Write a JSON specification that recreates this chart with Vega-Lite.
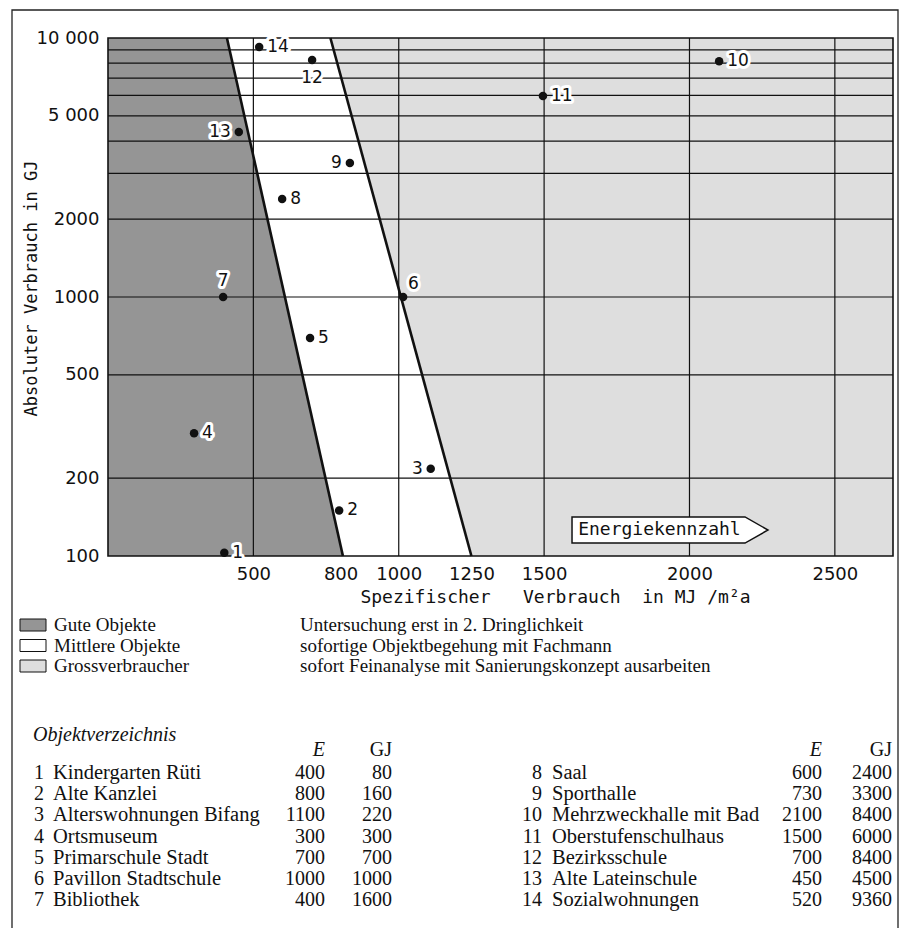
{
  "$schema": "https://vega.github.io/schema/vega-lite/v6.json",
  "width": 785,
  "height": 518,
  "autosize": {"type": "none"},
  "padding": {"left": 108, "top": 38, "right": 8, "bottom": 372},
  "background": "white",
  "config": {"view": {"stroke": null}},
  "datasets": {
    "objects": [
      {"id": 1, "name": "Kindergarten Rüti", "E": 400, "GJ": 80, "pE": 400, "pGJ": 103},
      {"id": 2, "name": "Alte Kanzlei", "E": 800, "GJ": 160, "pE": 795, "pGJ": 150},
      {"id": 3, "name": "Alterswohnungen Bifang", "E": 1100, "GJ": 220, "pE": 1110, "pGJ": 217},
      {"id": 4, "name": "Ortsmuseum", "E": 300, "GJ": 300, "pE": 296, "pGJ": 298},
      {"id": 5, "name": "Primarschule Stadt", "E": 700, "GJ": 700, "pE": 695, "pGJ": 695},
      {"id": 6, "name": "Pavillon Stadtschule", "E": 1000, "GJ": 1000, "pE": 1015, "pGJ": 1000},
      {"id": 7, "name": "Bibliothek", "E": 400, "GJ": 1600, "pE": 396, "pGJ": 1000},
      {"id": 8, "name": "Saal", "E": 600, "GJ": 2400, "pE": 599, "pGJ": 2390},
      {"id": 9, "name": "Sporthalle", "E": 730, "GJ": 3300, "pE": 832, "pGJ": 3290},
      {"id": 10, "name": "Mehrzweckhalle mit Bad", "E": 2100, "GJ": 8400, "pE": 2102, "pGJ": 8140},
      {"id": 11, "name": "Oberstufenschulhaus", "E": 1500, "GJ": 6000, "pE": 1496, "pGJ": 5970},
      {"id": 12, "name": "Bezirksschule", "E": 700, "GJ": 8400, "pE": 702, "pGJ": 8225},
      {"id": 13, "name": "Alte Lateinschule", "E": 450, "GJ": 4500, "pE": 450, "pGJ": 4335},
      {"id": 14, "name": "Sozialwohnungen", "E": 520, "GJ": 9360, "pE": 520, "pGJ": 9230}
    ],
    "zones": [
      {"zone": "Gute Objekte", "E": 808, "GJ": 100},
      {"zone": "Gute Objekte", "E": 409, "GJ": 10000},
      {"zone": "Grossverbraucher", "E": 1250, "GJ": 100},
      {"zone": "Grossverbraucher", "E": 765, "GJ": 10000}
    ],
    "hgrid": [{"GJ": 200}, {"GJ": 500}, {"GJ": 1000}, {"GJ": 2000}, {"GJ": 3000}, {"GJ": 4000}, {"GJ": 5000}, {"GJ": 6000}, {"GJ": 7000}, {"GJ": 8000}, {"GJ": 9000}],
    "vgrid": [{"E": 500}, {"E": 1000}, {"E": 1500}, {"E": 2000}, {"E": 2500}],
    "arrow": [
      {"aE": 1596, "top": 141.5, "bot": 112.2},
      {"aE": 2191, "top": 141.5, "bot": 112.2},
      {"aE": 2270, "top": 126, "bot": 126}
    ],
    "legend": [
      {"k": 1, "zone": "Gute Objekte", "desc": "Untersuchung erst in 2. Dringlichkeit"},
      {"k": 2, "zone": "Mittlere Objekte", "desc": "sofortige Objektbegehung mit Fachmann"},
      {"k": 3, "zone": "Grossverbraucher", "desc": "sofort Feinanalyse mit Sanierungskonzept ausarbeiten"}
    ]
  },
  "layer": [
    {
      "layer": [
        {
          "data": {"name": "zones"},
          "transform": [{"filter": "datum.zone == 'Gute Objekte'"}],
          "mark": {"type": "area", "orient": "horizontal", "opacity": 1},
          "encoding": {
            "x": {"field": "E", "type": "quantitative", "scale": {"domain": [0, 2700], "nice": false, "zero": false},
              "axis": {"values": [500, 800, 1000, 1250, 1500, 2000, 2500], "labelExpr": "'' + datum.value", "grid": false, "domain": false, "ticks": false, "labelFont": "DejaVu Sans", "labelFontSize": 18, "labelColor": "#111", "labelPadding": 23, "labelBaseline": "alphabetic", "labelFlush": false, "labelOverlap": false,
                "title": "Spezifischer\u00a0\u00a0\u00a0Verbrauch\u00a0\u00a0in\u00a0MJ\u00a0/m²a", "titleFont": "DejaVu Sans Mono", "titleFontSize": 18, "titleFontWeight": "normal", "titleColor": "#111", "titleX": 447, "titleY": 46, "titleAlign": "center", "titleBaseline": "alphabetic"}},
            "y": {"field": "GJ", "type": "quantitative", "scale": {"type": "log", "domain": [100, 10000], "nice": false},
              "axis": {"values": [100, 200, 500, 1000, 2000, 5000, 10000], "labelExpr": "datum.value == 10000 ? '10 000' : datum.value == 5000 ? '5 000' : '' + datum.value", "grid": false, "domain": false, "ticks": false, "labelFont": "DejaVu Sans", "labelFontSize": 18, "labelColor": "#111", "labelPadding": 9, "labelBaseline": "middle", "labelFlush": false, "labelOverlap": false,
                "title": "Absoluter\u00a0Verbrauch\u00a0in\u00a0GJ", "titleFont": "DejaVu Sans Mono", "titleFontSize": 17, "titleFontWeight": "normal", "titleColor": "#111", "titleAngle": 270, "titleX": -77, "titleY": 250, "titleAlign": "center", "titleBaseline": "middle"}},
            "x2": {"datum": 0},
            "color": {"field": "zone", "type": "nominal", "scale": {"domain": ["Gute Objekte", "Mittlere Objekte", "Grossverbraucher"], "range": ["#959595", "#ffffff", "#dedede"]}, "legend": null}
          }
        },
        {
          "data": {"name": "zones"},
          "transform": [{"filter": "datum.zone == 'Grossverbraucher'"}],
          "mark": {"type": "area", "orient": "horizontal", "opacity": 1},
          "encoding": {
            "x": {"field": "E", "type": "quantitative"},
            "y": {"field": "GJ", "type": "quantitative"},
            "x2": {"datum": 2700},
            "color": {"field": "zone", "type": "nominal", "legend": null}
          }
        },
        {
          "data": {"name": "hgrid"},
          "mark": {"type": "rule", "color": "#111", "strokeWidth": 1.2},
          "encoding": {
            "y": {"field": "GJ", "type": "quantitative"}
          }
        },
        {
          "data": {"name": "vgrid"},
          "mark": {"type": "rule", "color": "#111", "strokeWidth": 1.2},
          "encoding": {
            "x": {"field": "E", "type": "quantitative"}
          }
        },
        {
          "data": {"name": "zones"},
          "mark": {"type": "line", "color": "#111", "strokeWidth": 2.6},
          "encoding": {
            "x": {"field": "E", "type": "quantitative"},
            "y": {"field": "GJ", "type": "quantitative"},
            "detail": {"field": "zone"}
          }
        },
        {
          "data": {"values": [{}]},
          "mark": {"type": "rect", "filled": false, "stroke": "#111", "strokeWidth": 1.6},
          "encoding": {
            "x": {"datum": 0, "type": "quantitative"},
            "x2": {"datum": 2700},
            "y": {"datum": 100, "type": "quantitative"},
            "y2": {"datum": 10000}
          }
        },
        {
          "data": {"name": "arrow"},
          "mark": {"type": "area", "orient": "vertical", "fill": "white", "stroke": "#111", "strokeWidth": 1.5, "opacity": 1},
          "encoding": {
            "x": {"field": "aE", "type": "quantitative"},
            "y": {"field": "top", "type": "quantitative"},
            "y2": {"field": "bot"}
          }
        },
        {
          "data": {"values": [{}]},
          "mark": {"type": "text", "text": "Energiekennzahl", "font": "DejaVu Sans Mono", "fontSize": 18, "align": "left", "baseline": "middle", "color": "#111"},
          "encoding": {
            "x": {"datum": 1617, "type": "quantitative"},
            "y": {"datum": 126, "type": "quantitative"}
          }
        },
        {
          "data": {"name": "objects"},
          "mark": {"type": "circle", "size": 72, "color": "#111", "opacity": 1},
          "encoding": {
            "x": {"field": "pE", "type": "quantitative"},
            "y": {"field": "pGJ", "type": "quantitative"}
          }
        },
        {
          "data": {"name": "objects"},
          "transform": [{"filter": {"field": "id", "oneOf": [1, 2, 4, 5, 8, 10, 11, 14]}}],
          "encoding": {
            "x": {"field": "pE", "type": "quantitative"},
            "y": {"field": "pGJ", "type": "quantitative"},
            "text": {"field": "id", "type": "nominal"}
          },
          "layer": [
            {"mark": {"type": "text", "align": "left", "baseline": "middle", "dx": 8, "font": "DejaVu Sans", "fontSize": 17, "fill": "white", "stroke": "white", "strokeWidth": 6, "strokeJoin": "round"}},
            {"mark": {"type": "text", "align": "left", "baseline": "middle", "dx": 8, "font": "DejaVu Sans", "fontSize": 17, "color": "#111"}}
          ]
        },
        {
          "data": {"name": "objects"},
          "transform": [{"filter": {"field": "id", "oneOf": [3, 9, 13]}}],
          "encoding": {
            "x": {"field": "pE", "type": "quantitative"},
            "y": {"field": "pGJ", "type": "quantitative"},
            "text": {"field": "id", "type": "nominal"}
          },
          "layer": [
            {"mark": {"type": "text", "align": "right", "baseline": "middle", "dx": -8, "font": "DejaVu Sans", "fontSize": 17, "fill": "white", "stroke": "white", "strokeWidth": 6, "strokeJoin": "round"}},
            {"mark": {"type": "text", "align": "right", "baseline": "middle", "dx": -8, "font": "DejaVu Sans", "fontSize": 17, "color": "#111"}}
          ]
        },
        {
          "data": {"name": "objects"},
          "transform": [{"filter": "datum.id == 7"}],
          "encoding": {
            "x": {"field": "pE", "type": "quantitative"},
            "y": {"field": "pGJ", "type": "quantitative"},
            "text": {"field": "id", "type": "nominal"}
          },
          "layer": [
            {"mark": {"type": "text", "align": "center", "baseline": "middle", "dy": -16, "font": "DejaVu Sans", "fontSize": 17, "fill": "white", "stroke": "white", "strokeWidth": 6, "strokeJoin": "round"}},
            {"mark": {"type": "text", "align": "center", "baseline": "middle", "dy": -16, "font": "DejaVu Sans", "fontSize": 17, "color": "#111"}}
          ]
        },
        {
          "data": {"name": "objects"},
          "transform": [{"filter": "datum.id == 6"}],
          "encoding": {
            "x": {"field": "pE", "type": "quantitative"},
            "y": {"field": "pGJ", "type": "quantitative"},
            "text": {"field": "id", "type": "nominal"}
          },
          "layer": [
            {"mark": {"type": "text", "align": "left", "baseline": "middle", "dx": 5, "dy": -13, "font": "DejaVu Sans", "fontSize": 17, "fill": "white", "stroke": "white", "strokeWidth": 6, "strokeJoin": "round"}},
            {"mark": {"type": "text", "align": "left", "baseline": "middle", "dx": 5, "dy": -13, "font": "DejaVu Sans", "fontSize": 17, "color": "#111"}}
          ]
        },
        {
          "data": {"name": "objects"},
          "transform": [{"filter": "datum.id == 12"}],
          "encoding": {
            "x": {"field": "pE", "type": "quantitative"},
            "y": {"field": "pGJ", "type": "quantitative"},
            "text": {"field": "id", "type": "nominal"}
          },
          "layer": [
            {"mark": {"type": "text", "align": "center", "baseline": "middle", "dy": 18, "font": "DejaVu Sans", "fontSize": 17, "fill": "white", "stroke": "white", "strokeWidth": 6, "strokeJoin": "round"}},
            {"mark": {"type": "text", "align": "center", "baseline": "middle", "dy": 18, "font": "DejaVu Sans", "fontSize": 17, "color": "#111"}}
          ]
        }
      ]
    },
    {
      "data": {"values": [{}]},
      "mark": {"type": "rect", "filled": false, "stroke": "#222", "strokeWidth": 1.3},
      "encoding": {
        "x": {"datum": 12, "type": "quantitative", "scale": {"domain": [0, 901], "range": [-108, 793], "nice": false, "zero": false}, "axis": null},
        "x2": {"datum": 898},
        "y": {"datum": 10, "type": "quantitative", "scale": {"domain": [0, 928], "range": [-38, 890], "nice": false, "zero": false}, "axis": null},
        "y2": {"datum": 945}
      }
    },
    {
      "data": {"name": "legend"},
      "layer": [
        {
          "mark": {"type": "rect", "height": 12, "stroke": "#111", "strokeWidth": 1, "opacity": 1},
          "encoding": {
            "x": {"datum": 20, "type": "quantitative", "scale": {"domain": [0, 901], "range": [-108, 793], "nice": false, "zero": false}, "axis": null},
            "x2": {"datum": 46},
            "y": {"field": "k", "type": "quantitative", "scale": {"domain": [1, 3], "range": [587, 628], "nice": false, "zero": false}, "axis": null},
            "color": {"field": "zone", "type": "nominal", "legend": null}
          }
        },
        {
          "mark": {"type": "text", "align": "left", "baseline": "middle", "font": "Liberation Serif", "fontSize": 19, "color": "#111"},
          "encoding": {
            "x": {"datum": 54, "type": "quantitative", "axis": null},
            "y": {"field": "k", "type": "quantitative", "axis": null},
            "text": {"field": "zone", "type": "nominal"}
          }
        },
        {
          "mark": {"type": "text", "align": "left", "baseline": "middle", "font": "Liberation Serif", "fontSize": 19, "color": "#111"},
          "encoding": {
            "x": {"datum": 300, "type": "quantitative", "axis": null},
            "y": {"field": "k", "type": "quantitative", "axis": null},
            "text": {"field": "desc", "type": "nominal"}
          }
        }
      ]
    },
    {
      "data": {"name": "objects"},
      "transform": [{"calculate": "datum.id <= 7 ? datum.id : datum.id - 7", "as": "row"}],
      "layer": [
        {
          "transform": [{"filter": "datum.id <= 7"}],
          "mark": {"type": "text", "align": "right", "baseline": "middle", "font": "Liberation Serif", "fontSize": 20, "color": "#111"},
          "encoding": {
            "x": {"datum": 44, "type": "quantitative", "scale": {"domain": [0, 901], "range": [-108, 793], "nice": false, "zero": false}, "axis": null},
            "y": {"field": "row", "type": "quantitative", "scale": {"domain": [1, 7], "range": [735, 862], "nice": false, "zero": false}, "axis": null},
            "text": {"field": "id", "type": "nominal"}
          }
        },
        {
          "transform": [{"filter": "datum.id <= 7"}],
          "mark": {"type": "text", "align": "left", "baseline": "middle", "font": "Liberation Serif", "fontSize": 20.5, "color": "#111"},
          "encoding": {
            "x": {"datum": 53, "type": "quantitative", "axis": null},
            "y": {"field": "row", "type": "quantitative", "axis": null},
            "text": {"field": "name", "type": "nominal"}
          }
        },
        {
          "transform": [{"filter": "datum.id <= 7"}],
          "mark": {"type": "text", "align": "right", "baseline": "middle", "font": "Liberation Serif", "fontSize": 20, "color": "#111"},
          "encoding": {
            "x": {"datum": 325, "type": "quantitative", "axis": null},
            "y": {"field": "row", "type": "quantitative", "axis": null},
            "text": {"field": "E", "type": "nominal"}
          }
        },
        {
          "transform": [{"filter": "datum.id <= 7"}],
          "mark": {"type": "text", "align": "right", "baseline": "middle", "font": "Liberation Serif", "fontSize": 20, "color": "#111"},
          "encoding": {
            "x": {"datum": 392, "type": "quantitative", "axis": null},
            "y": {"field": "row", "type": "quantitative", "axis": null},
            "text": {"field": "GJ", "type": "nominal"}
          }
        },
        {
          "transform": [{"filter": "datum.id >= 8"}],
          "mark": {"type": "text", "align": "right", "baseline": "middle", "font": "Liberation Serif", "fontSize": 20, "color": "#111"},
          "encoding": {
            "x": {"datum": 542, "type": "quantitative", "axis": null},
            "y": {"field": "row", "type": "quantitative", "axis": null},
            "text": {"field": "id", "type": "nominal"}
          }
        },
        {
          "transform": [{"filter": "datum.id >= 8"}],
          "mark": {"type": "text", "align": "left", "baseline": "middle", "font": "Liberation Serif", "fontSize": 20.5, "color": "#111"},
          "encoding": {
            "x": {"datum": 552, "type": "quantitative", "axis": null},
            "y": {"field": "row", "type": "quantitative", "axis": null},
            "text": {"field": "name", "type": "nominal"}
          }
        },
        {
          "transform": [{"filter": "datum.id >= 8"}],
          "mark": {"type": "text", "align": "right", "baseline": "middle", "font": "Liberation Serif", "fontSize": 20, "color": "#111"},
          "encoding": {
            "x": {"datum": 822, "type": "quantitative", "axis": null},
            "y": {"field": "row", "type": "quantitative", "axis": null},
            "text": {"field": "E", "type": "nominal"}
          }
        },
        {
          "transform": [{"filter": "datum.id >= 8"}],
          "mark": {"type": "text", "align": "right", "baseline": "middle", "font": "Liberation Serif", "fontSize": 20, "color": "#111"},
          "encoding": {
            "x": {"datum": 892, "type": "quantitative", "axis": null},
            "y": {"field": "row", "type": "quantitative", "axis": null},
            "text": {"field": "GJ", "type": "nominal"}
          }
        },
        {
          "data": {"values": [{}]},
          "mark": {"type": "text", "text": "Objektverzeichnis", "align": "left", "baseline": "middle", "font": "Liberation Serif", "fontStyle": "italic", "fontSize": 20, "color": "#111"},
          "encoding": {
            "x": {"datum": 33, "type": "quantitative", "axis": null},
            "y": {"datum": -0.8, "type": "quantitative", "axis": null}
          }
        },
        {
          "data": {"values": [{"h": "E", "c": 325}, {"h": "E", "c": 822}]},
          "mark": {"type": "text", "align": "right", "baseline": "middle", "font": "Liberation Serif", "fontStyle": "italic", "fontSize": 20, "color": "#111"},
          "encoding": {
            "x": {"field": "c", "type": "quantitative", "axis": null},
            "y": {"datum": -0.1, "type": "quantitative", "axis": null},
            "text": {"field": "h", "type": "nominal"}
          }
        },
        {
          "data": {"values": [{"h": "GJ", "c": 392}, {"h": "GJ", "c": 892}]},
          "mark": {"type": "text", "align": "right", "baseline": "middle", "font": "Liberation Serif", "fontSize": 20, "color": "#111"},
          "encoding": {
            "x": {"field": "c", "type": "quantitative", "axis": null},
            "y": {"datum": -0.1, "type": "quantitative", "axis": null},
            "text": {"field": "h", "type": "nominal"}
          }
        }
      ]
    }
  ],
  "resolve": {"scale": {"x": "independent", "y": "independent"}}
}
